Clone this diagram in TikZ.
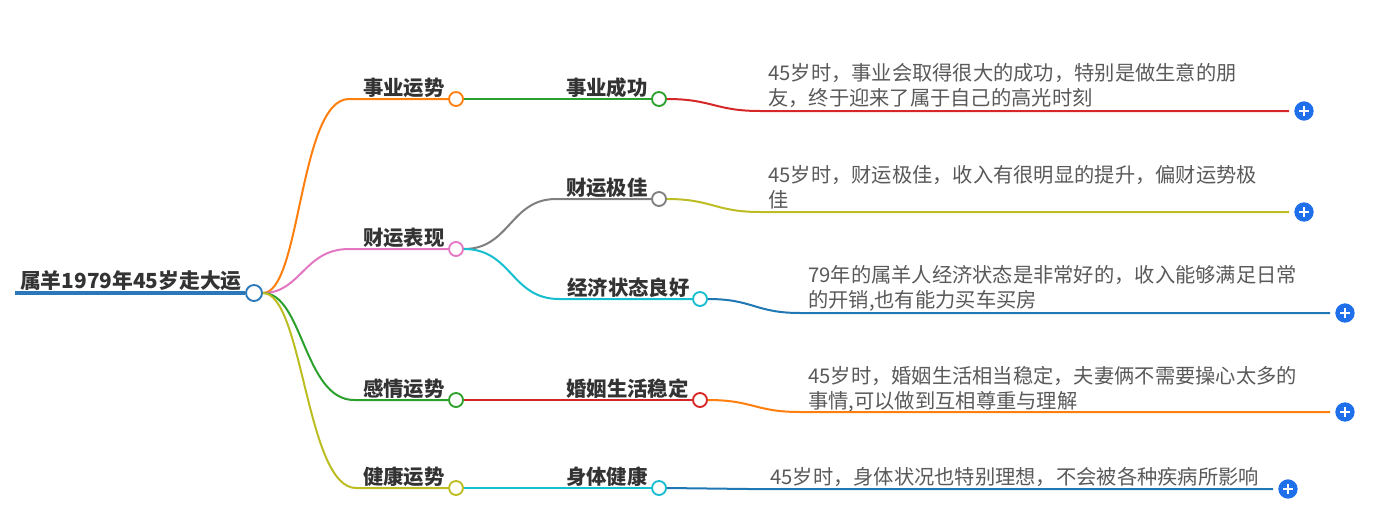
\documentclass[tikz,border=0pt]{standalone}
\usepackage{fontspec}
\setmainfont{Noto Sans CJK SC}
\usetikzlibrary{calc}
\definecolor{cRoot}{HTML}{2A78B8}
\definecolor{cOrange}{HTML}{FF7F0E}
\definecolor{cPink}{HTML}{E377C2}
\definecolor{cGreen}{HTML}{2CA02C}
\definecolor{cOlive}{HTML}{BCBD22}
\definecolor{cGray}{HTML}{7F7F7F}
\definecolor{cCyan}{HTML}{17BECF}
\definecolor{cRed}{HTML}{D62728}
\definecolor{cBlue}{HTML}{1F77B4}
\definecolor{txtDark}{HTML}{333333}
\definecolor{txtGray}{HTML}{595959}
\definecolor{plusBlue}{HTML}{1F6FEB}
\begin{document}
\begin{tikzpicture}[x=0.75pt,y=-0.75pt,
  conn/.style={line width=1.5pt},
  dot/.style={circle, draw, fill=white, line width=1.4pt, inner sep=0pt, minimum size=10.5pt},
  lab/.style={font=\fontsize{15.3}{18}\selectfont\bfseries, text=txtDark, inner sep=0pt, anchor=base east},
  desc/.style={font=\fontsize{15.2}{18.75}\selectfont, text=txtGray, inner sep=0pt, anchor=north west, align=left},
  plusbtn/.style={circle, fill=plusBlue, inner sep=0pt, minimum size=14.5pt,
    path picture={\draw[white, line width=1.5pt]
      ($(path picture bounding box.center)+(-3.8pt,0)$) -- ($(path picture bounding box.center)+(3.8pt,0)$)
      ($(path picture bounding box.center)+(0,-3.8pt)$) -- ($(path picture bounding box.center)+(0,3.8pt)$);}}]
\useasboundingbox (0,0) rectangle (1375,525);

% root
\coordinate (rl) at (15,293);
\node[dot, draw=cRoot, minimum size=12pt] (r) at (254,293) {};
\draw[line width=3pt, cRoot] (rl) -- (r.west);
\node[lab, font=\fontsize{15.6}{18}\selectfont\bfseries] (rt) at (242,288.5) {属羊1979年45岁走大运};

% level 1
\node[dot, draw=cOrange] (a1) at (456,99) {};
\node[dot, draw=cPink] (a2) at (456,249) {};
\node[dot, draw=cGreen] (a3) at (456,400) {};
\node[dot, draw=cOlive] (a4) at (456,488) {};
\node[lab] (ta1) at (445,95) {事业运势};
\node[lab] (ta2) at (445,245) {财运表现};
\node[lab] (ta3) at (445,396) {感情运势};
\node[lab] (ta4) at (445,484) {健康运势};

% level 2
\node[dot, draw=cGreen] (b1) at (659,99) {};
\node[dot, draw=cGray] (b2) at (659,199) {};
\node[dot, draw=cCyan] (b3) at (700,299) {};
\node[dot, draw=cRed] (b4) at (700,400) {};
\node[dot, draw=cCyan] (b5) at (659,488) {};
\node[lab] (tb1) at (648,95) {事业成功};
\node[lab] (tb2) at (648,195) {财运极佳};
\node[lab] (tb3) at (690,295) {经济状态良好};
\node[lab] (tb4) at (689,396) {婚姻生活稳定};
\node[lab] (tb5) at (648,484) {身体健康};

% plus buttons
\node[plusbtn] (p1) at (1304,111) {};
\node[plusbtn] (p2) at (1304,212) {};
\node[plusbtn] (p3) at (1345,313) {};
\node[plusbtn] (p4) at (1345,412) {};
\node[plusbtn] (p5) at (1288,489) {};

% descriptions
\node[desc] (d1) at (768,63) {45岁时，事业会取得很大的成功，特别是做生意的朋\\友，终于迎来了属于自己的高光时刻};
\node[desc] (d2) at (768,165) {45岁时，财运极佳，收入有很明显的提升，偏财运势极\\佳};
\node[desc] (d3) at (808,265) {79年的属羊人经济状态是非常好的，收入能够满足日常\\的开销,也有能力买车买房};
\node[desc] (d4) at (808,366) {45岁时，婚姻生活相当稳定，夫妻俩不需要操心太多的\\事情,可以做到互相尊重与理解};
\node[desc] (d5) at (770,467) {45岁时，身体状况也特别理想，不会被各种疾病所影响};

% root -> level 1
\draw[conn, cOrange] (r.east) .. controls +(38,0) and +(-50,0) .. ($(a1.west)+(-99,0)$) -- (a1.west);
\draw[conn, cPink] (r.east) .. controls +(38,0) and +(-45,0) .. ($(a2.west)+(-99,0)$) -- (a2.west);
\draw[conn, cGreen] (r.east) .. controls +(40,0) and +(-50,0) .. ($(a3.west)+(-94,0)$) -- (a3.west);
\draw[conn, cOlive] (r.east) .. controls +(40,0) and +(-50,0) .. ($(a4.west)+(-92,0)$) -- (a4.west);

% level 1 -> level 2
\draw[conn, cGreen] (a1.east) -- (b1.west);
\draw[conn, cGray] (a2.east) .. controls +(46,0) and +(-46,0) .. ($(b2.west)+(-95,0)$) -- (b2.west);
\draw[conn, cCyan] (a2.east) .. controls +(48,0) and +(-48,0) .. ($(b3.west)+(-133,0)$) -- (b3.west);
\draw[conn, cRed] (a3.east) -- (b4.west);
\draw[conn, cCyan] (a4.east) -- (b5.west);

% level 2 -> descriptions
\draw[conn, cRed] (b1.east) .. controls +(45,0) and +(-45,0) .. ($(p1)+(-544,0)$) -- ($(p1.west)+(-5,0)$);
\draw[conn, cOlive] (b2.east) .. controls +(45,0) and +(-45,0) .. ($(p2)+(-544,0)$) -- ($(p2.west)+(-5,0)$);
\draw[conn, cBlue] (b3.east) .. controls +(45,0) and +(-45,0) .. ($(p3)+(-545,0)$) -- ($(p3.west)+(-5,0)$);
\draw[conn, cOrange] (b4.east) .. controls +(45,0) and +(-45,0) .. ($(p4)+(-545,0)$) -- ($(p4.west)+(-5,0)$);
\draw[conn, cBlue] (b5.east) .. controls +(40,0) and +(-40,0) .. ($(p5)+(-540,0)$) -- ($(p5.west)+(-5,0)$);
\end{tikzpicture}
\end{document}
